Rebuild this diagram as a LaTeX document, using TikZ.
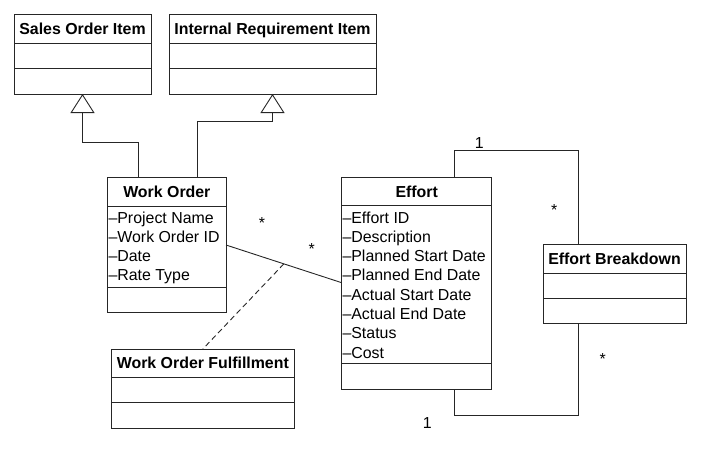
\documentclass[tikz,border=0pt]{standalone}
\usepackage{fontspec}
\setmainfont{Liberation Sans}
\usetikzlibrary{arrows.meta,calc}
\begin{document}
\begin{tikzpicture}[x=1pt,y=-1pt, line width=0.9pt,
  ln/.style={draw=black!85, line width=0.9pt},
  box/.style={draw=black!85, line width=0.9pt, inner sep=0pt, outer sep=0pt, anchor=north west},
  title/.style={anchor=base, inner sep=0pt, font=\fontsize{15.9}{19}\selectfont\bfseries},
  attr/.style={anchor=base west, inner sep=0pt, font=\fontsize{15.9}{19}\selectfont},
  mult/.style={anchor=base, inner sep=0pt, font=\fontsize{15.9}{19}\selectfont},
  gen/.style={ln, -{Triangle[open, length=19pt, width=24pt, fill=white]}, line join=miter},
  assoc/.style={ln},
  dep/.style={ln, dash pattern=on 5.5pt off 3.5pt}
]
\useasboundingbox (0,0) rectangle (715,451);

% Sales Order Item
\node[box, minimum width=137pt, minimum height=80pt] (soi) at (14,14) {};
\node[title] (soiT) at ($(soi.north)+(0,20)$) {Sales Order Item};
\draw[ln] ([yshift=-29pt]soi.north west) -- ([yshift=-29pt]soi.north east);
\draw[ln] ([yshift=-54pt]soi.north west) -- ([yshift=-54pt]soi.north east);

% Internal Requirement Item
\node[box, minimum width=207pt, minimum height=80pt] (iri) at (169,14) {};
\node[title] (iriT) at ($(iri.north)+(0,20)$) {Internal Requirement Item};
\draw[ln] ([yshift=-29pt]iri.north west) -- ([yshift=-29pt]iri.north east);
\draw[ln] ([yshift=-54pt]iri.north west) -- ([yshift=-54pt]iri.north east);

% Work Order
\node[box, minimum width=118.3pt, minimum height=135pt] (wo) at (107.7,177) {};
\node[title] (woT) at ($(wo.north)+(0,20)$) {Work Order};
\draw[ln] ([yshift=-29pt]wo.north west) -- ([yshift=-29pt]wo.north east);
\draw[ln] ([yshift=-110pt]wo.north west) -- ([yshift=-110pt]wo.north east);
\foreach \t [count=\i] in {Project Name, Work Order ID, Date, Rate Type}
  \node[attr] (woa\i) at ($(wo.north west)+(0.4,{46+(\i-1)*19.3})$) {\textendash\t};

% Effort
\node[box, minimum width=150pt, minimum height=212pt] (ef) at (341.7,177) {};
\node[title] (efT) at ($(ef.north)+(0,20)$) {Effort};
\draw[ln] ([yshift=-28pt]ef.north west) -- ([yshift=-28pt]ef.north east);
\draw[ln] ([yshift=-186pt]ef.north west) -- ([yshift=-186pt]ef.north east);
\foreach \t [count=\i] in {Effort ID, Description, Planned Start Date, Planned End Date, Actual Start Date, Actual End Date, Status, Cost}
  \node[attr] (efa\i) at ($(ef.north west)+(0.4,{46+(\i-1)*19.3})$) {\textendash\t};

% Effort Breakdown
\node[box, minimum width=143pt, minimum height=78.6pt] (eb) at (543,244.7) {};
\node[title] (ebT) at ($(eb.north)+(0,19.5)$) {Effort Breakdown};
\draw[ln] ([yshift=-28.6pt]eb.north west) -- ([yshift=-28.6pt]eb.north east);
\draw[ln] ([yshift=-54pt]eb.north west) -- ([yshift=-54pt]eb.north east);

% Work Order Fulfillment
\node[box, minimum width=183.7pt, minimum height=79pt] (wof) at (111,349) {};
\node[title] (wofT) at ($(wof.north)+(0,19.7)$) {Work Order Fulfillment};
\draw[ln] ([yshift=-28.7pt]wof.north west) -- ([yshift=-28.7pt]wof.north east);
\draw[ln] ([yshift=-53.7pt]wof.north west) -- ([yshift=-53.7pt]wof.north east);

% Generalizations
\draw[gen] ([xshift=30.3pt]wo.north west) -- ++(0,-35) -| (soi.south);
\draw[gen] ([xshift=89.3pt]wo.north west) -- ++(0,-56) -| (iri.south);

% Association Work Order -- Effort with association class
\coordinate (woR) at ([yshift=-68pt]wo.north east);
\coordinate (efL) at ([yshift=-105.7pt]ef.north west);
\draw[assoc] (woR) -- (efL);
\coordinate (mid) at ($(woR)!0.5!(efL)$);
\draw[dep] (mid) -- (wof.north);

% Self association of Effort via Effort Breakdown
\draw[assoc] ([xshift=112.3pt]ef.north west) -- ++(0,-26.3) -| ([xshift=35.7pt]eb.north west);
\draw[assoc] ([xshift=35.7pt]eb.south west) -- ++(0,92) -| ([xshift=112.3pt]ef.south west);

% Multiplicities
\node[mult] (m1) at (262,228) {*};
\node[mult] (m2) at (311.7,254) {*};
\node[mult] (m3) at (479.3,148.4) {1};
\node[mult] (m4) at (554.3,215) {*};
\node[mult] (m5) at (602.7,364) {*};
\node[mult] (m6) at (427.3,428.4) {1};
\end{tikzpicture}
\end{document}
